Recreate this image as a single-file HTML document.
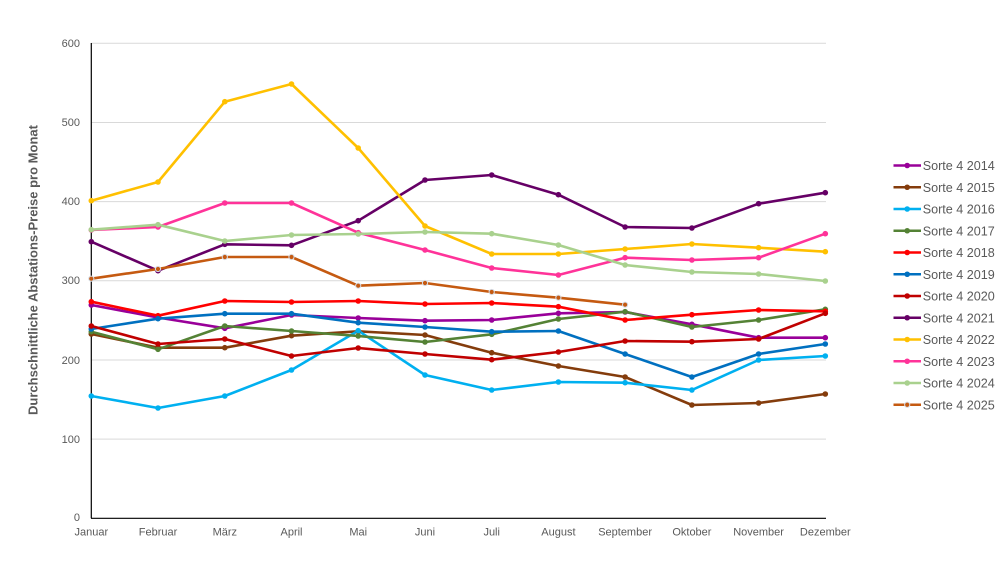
<!DOCTYPE html>
<html><head><meta charset="utf-8"><style>
html,body{margin:0;padding:0;background:#fff;}
svg{display:block;font-family:"Liberation Sans",Arial,sans-serif;}
</style></head><body>
<svg width="1008" height="573" viewBox="0 0 1008 573" xmlns="http://www.w3.org/2000/svg">
<rect width="1008" height="573" fill="#fff"/>
<g stroke="#D9D9D9" stroke-width="1">
<line x1="91" y1="43.3" x2="826" y2="43.3"/>
<line x1="91" y1="122.5" x2="826" y2="122.5"/>
<line x1="91" y1="201.6" x2="826" y2="201.6"/>
<line x1="91" y1="280.8" x2="826" y2="280.8"/>
<line x1="91" y1="360" x2="826" y2="360"/>
<line x1="91" y1="439.1" x2="826" y2="439.1"/>
</g>
<line x1="91.3" y1="43" x2="91.3" y2="518.3" stroke="#000" stroke-width="1.2"/>
<line x1="91" y1="518.3" x2="826" y2="518.3" stroke="#000" stroke-width="1.2"/>
<g fill="#595959" font-size="11" text-anchor="end">
<text x="80" y="47">600</text>
<text x="80" y="126">500</text>
<text x="80" y="205">400</text>
<text x="80" y="284">300</text>
<text x="80" y="364">200</text>
<text x="80" y="443">100</text>
<text x="80" y="521">0</text>
</g>
<g fill="#595959" font-size="11" text-anchor="middle">
<text x="91.3" y="535.5">Januar</text>
<text x="158" y="535.5">Februar</text>
<text x="224.8" y="535.5">März</text>
<text x="291.5" y="535.5">April</text>
<text x="358.2" y="535.5">Mai</text>
<text x="425" y="535.5">Juni</text>
<text x="491.7" y="535.5">Juli</text>
<text x="558.4" y="535.5">August</text>
<text x="625.1" y="535.5">September</text>
<text x="691.9" y="535.5">Oktober</text>
<text x="758.6" y="535.5">November</text>
<text x="825.3" y="535.5">Dezember</text>
</g>
<text transform="translate(37.5,270) rotate(-90)" text-anchor="middle" font-size="13" font-weight="bold" fill="#595959">Durchschnittliche Abstations-Preise pro Monat</text>

<g fill="none" stroke-width="2.6" stroke-linejoin="round">
<polyline stroke="#990099" points="91.3,305 158,317.5 224.8,328.3 291.5,315 358.2,318 425,320.7 491.7,320 558.4,313.3 625.1,312 691.9,324.3 758.6,337.7 825.3,337.7"/>
<polyline stroke="#843C0C" points="91.3,334 158,347.7 224.8,347.7 291.5,335.7 358.2,331.3 425,335 491.7,352.7 558.4,366 625.1,377 691.9,405 758.6,403 825.3,394"/>
<polyline stroke="#00B0F0" points="91.3,396 158,408 224.8,396 291.5,370 358.2,330.7 425,375 491.7,390 558.4,382 625.1,382.7 691.9,390 758.6,360 825.3,356"/>
<polyline stroke="#548235" points="91.3,331.7 158,349.3 224.8,326 291.5,331 358.2,336 425,342 491.7,334.3 558.4,319 625.1,311.7 691.9,327 758.6,320 825.3,309.3"/>
<polyline stroke="#FF0000" points="91.3,301.7 158,315.7 224.8,301 291.5,302 358.2,301 425,304 491.7,303 558.4,306.7 625.1,320 691.9,314.7 758.6,310 825.3,311.3"/>
<polyline stroke="#0070C0" points="91.3,329 158,318.7 224.8,313.7 291.5,313.7 358.2,322.7 425,327 491.7,331.7 558.4,331 625.1,354 691.9,377 758.6,354 825.3,344"/>
<polyline stroke="#C00000" points="91.3,326 158,344 224.8,339 291.5,356 358.2,348 425,354 491.7,359.7 558.4,352 625.1,341 691.9,341.7 758.6,339 825.3,313.3"/>
<polyline stroke="#660066" points="91.3,241.7 158,270.7 224.8,244.3 291.5,245.3 358.2,220.7 425,180 491.7,175 558.4,194.7 625.1,227 691.9,228 758.6,203.7 825.3,192.7"/>
<polyline stroke="#FFC000" points="91.3,200.7 158,182 224.8,101.7 291.5,84 358.2,148 425,226 491.7,254 558.4,254 625.1,249 691.9,244 758.6,247.7 825.3,251.7"/>
<polyline stroke="#FF3399" points="91.3,230 158,227 224.8,203 291.5,203 358.2,232.7 425,250 491.7,268 558.4,275 625.1,257.7 691.9,260 758.6,257.7 825.3,233.7"/>
<polyline stroke="#A9D18E" points="91.3,229.7 158,224.7 224.8,241 291.5,235 358.2,234 425,232 491.7,233.7 558.4,245 625.1,265 691.9,272 758.6,274 825.3,281"/>
<polyline stroke="#C55A11" points="91.3,278.7 158,269 224.8,257 291.5,257 358.2,285.7 425,283 491.7,292 558.4,297.7 625.1,304.7"/>
</g>

<g stroke="none">
<g fill="#990099"><circle cx="91.3" cy="305" r="2.8"/><circle cx="158" cy="317.5" r="2.8"/><circle cx="224.8" cy="328.3" r="2.8"/><circle cx="291.5" cy="315" r="2.8"/><circle cx="358.2" cy="318" r="2.8"/><circle cx="425" cy="320.7" r="2.8"/><circle cx="491.7" cy="320" r="2.8"/><circle cx="558.4" cy="313.3" r="2.8"/><circle cx="625.1" cy="312" r="2.8"/><circle cx="691.9" cy="324.3" r="2.8"/><circle cx="758.6" cy="337.7" r="2.8"/><circle cx="825.3" cy="337.7" r="2.8"/></g>
<g fill="#843C0C"><circle cx="91.3" cy="334" r="2.8"/><circle cx="158" cy="347.7" r="2.8"/><circle cx="224.8" cy="347.7" r="2.8"/><circle cx="291.5" cy="335.7" r="2.8"/><circle cx="358.2" cy="331.3" r="2.8"/><circle cx="425" cy="335" r="2.8"/><circle cx="491.7" cy="352.7" r="2.8"/><circle cx="558.4" cy="366" r="2.8"/><circle cx="625.1" cy="377" r="2.8"/><circle cx="691.9" cy="405" r="2.8"/><circle cx="758.6" cy="403" r="2.8"/><circle cx="825.3" cy="394" r="2.8"/></g>
<g fill="#00B0F0"><circle cx="91.3" cy="396" r="2.8"/><circle cx="158" cy="408" r="2.8"/><circle cx="224.8" cy="396" r="2.8"/><circle cx="291.5" cy="370" r="2.8"/><circle cx="358.2" cy="330.7" r="2.8"/><circle cx="425" cy="375" r="2.8"/><circle cx="491.7" cy="390" r="2.8"/><circle cx="558.4" cy="382" r="2.8"/><circle cx="625.1" cy="382.7" r="2.8"/><circle cx="691.9" cy="390" r="2.8"/><circle cx="758.6" cy="360" r="2.8"/><circle cx="825.3" cy="356" r="2.8"/></g>
<g fill="#548235"><circle cx="91.3" cy="331.7" r="2.8"/><circle cx="158" cy="349.3" r="2.8"/><circle cx="224.8" cy="326" r="2.8"/><circle cx="291.5" cy="331" r="2.8"/><circle cx="358.2" cy="336" r="2.8"/><circle cx="425" cy="342" r="2.8"/><circle cx="491.7" cy="334.3" r="2.8"/><circle cx="558.4" cy="319" r="2.8"/><circle cx="625.1" cy="311.7" r="2.8"/><circle cx="691.9" cy="327" r="2.8"/><circle cx="758.6" cy="320" r="2.8"/><circle cx="825.3" cy="309.3" r="2.8"/></g>
<g fill="#FF0000"><circle cx="91.3" cy="301.7" r="2.8"/><circle cx="158" cy="315.7" r="2.8"/><circle cx="224.8" cy="301" r="2.8"/><circle cx="291.5" cy="302" r="2.8"/><circle cx="358.2" cy="301" r="2.8"/><circle cx="425" cy="304" r="2.8"/><circle cx="491.7" cy="303" r="2.8"/><circle cx="558.4" cy="306.7" r="2.8"/><circle cx="625.1" cy="320" r="2.8"/><circle cx="691.9" cy="314.7" r="2.8"/><circle cx="758.6" cy="310" r="2.8"/><circle cx="825.3" cy="311.3" r="2.8"/></g>
<g fill="#0070C0"><circle cx="91.3" cy="329" r="2.8"/><circle cx="158" cy="318.7" r="2.8"/><circle cx="224.8" cy="313.7" r="2.8"/><circle cx="291.5" cy="313.7" r="2.8"/><circle cx="358.2" cy="322.7" r="2.8"/><circle cx="425" cy="327" r="2.8"/><circle cx="491.7" cy="331.7" r="2.8"/><circle cx="558.4" cy="331" r="2.8"/><circle cx="625.1" cy="354" r="2.8"/><circle cx="691.9" cy="377" r="2.8"/><circle cx="758.6" cy="354" r="2.8"/><circle cx="825.3" cy="344" r="2.8"/></g>
<g fill="#C00000"><circle cx="91.3" cy="326" r="2.8"/><circle cx="158" cy="344" r="2.8"/><circle cx="224.8" cy="339" r="2.8"/><circle cx="291.5" cy="356" r="2.8"/><circle cx="358.2" cy="348" r="2.8"/><circle cx="425" cy="354" r="2.8"/><circle cx="491.7" cy="359.7" r="2.8"/><circle cx="558.4" cy="352" r="2.8"/><circle cx="625.1" cy="341" r="2.8"/><circle cx="691.9" cy="341.7" r="2.8"/><circle cx="758.6" cy="339" r="2.8"/><circle cx="825.3" cy="313.3" r="2.8"/></g>
<g fill="#660066"><circle cx="91.3" cy="241.7" r="2.8"/><circle cx="158" cy="270.7" r="2.8"/><circle cx="224.8" cy="244.3" r="2.8"/><circle cx="291.5" cy="245.3" r="2.8"/><circle cx="358.2" cy="220.7" r="2.8"/><circle cx="425" cy="180" r="2.8"/><circle cx="491.7" cy="175" r="2.8"/><circle cx="558.4" cy="194.7" r="2.8"/><circle cx="625.1" cy="227" r="2.8"/><circle cx="691.9" cy="228" r="2.8"/><circle cx="758.6" cy="203.7" r="2.8"/><circle cx="825.3" cy="192.7" r="2.8"/></g>
<g fill="#FFC000"><circle cx="91.3" cy="200.7" r="2.8"/><circle cx="158" cy="182" r="2.8"/><circle cx="224.8" cy="101.7" r="2.8"/><circle cx="291.5" cy="84" r="2.8"/><circle cx="358.2" cy="148" r="2.8"/><circle cx="425" cy="226" r="2.8"/><circle cx="491.7" cy="254" r="2.8"/><circle cx="558.4" cy="254" r="2.8"/><circle cx="625.1" cy="249" r="2.8"/><circle cx="691.9" cy="244" r="2.8"/><circle cx="758.6" cy="247.7" r="2.8"/><circle cx="825.3" cy="251.7" r="2.8"/></g>
<g fill="#FF3399"><circle cx="91.3" cy="230" r="2.8"/><circle cx="158" cy="227" r="2.8"/><circle cx="224.8" cy="203" r="2.8"/><circle cx="291.5" cy="203" r="2.8"/><circle cx="358.2" cy="232.7" r="2.8"/><circle cx="425" cy="250" r="2.8"/><circle cx="491.7" cy="268" r="2.8"/><circle cx="558.4" cy="275" r="2.8"/><circle cx="625.1" cy="257.7" r="2.8"/><circle cx="691.9" cy="260" r="2.8"/><circle cx="758.6" cy="257.7" r="2.8"/><circle cx="825.3" cy="233.7" r="2.8"/></g>
<g fill="#A9D18E"><circle cx="91.3" cy="229.7" r="2.8"/><circle cx="158" cy="224.7" r="2.8"/><circle cx="224.8" cy="241" r="2.8"/><circle cx="291.5" cy="235" r="2.8"/><circle cx="358.2" cy="234" r="2.8"/><circle cx="425" cy="232" r="2.8"/><circle cx="491.7" cy="233.7" r="2.8"/><circle cx="558.4" cy="245" r="2.8"/><circle cx="625.1" cy="265" r="2.8"/><circle cx="691.9" cy="272" r="2.8"/><circle cx="758.6" cy="274" r="2.8"/><circle cx="825.3" cy="281" r="2.8"/></g>
<g fill="#C55A11" stroke="#D6DCE5" stroke-width="1"><circle cx="91.3" cy="278.7" r="2.6"/><circle cx="158" cy="269" r="2.6"/><circle cx="224.8" cy="257" r="2.6"/><circle cx="291.5" cy="257" r="2.6"/><circle cx="358.2" cy="285.7" r="2.6"/><circle cx="425" cy="283" r="2.6"/><circle cx="491.7" cy="292" r="2.6"/><circle cx="558.4" cy="297.7" r="2.6"/><circle cx="625.1" cy="304.7" r="2.6"/></g>
</g>

<g font-size="12.6" fill="#595959">
<g transform="translate(0,165.5)"><line x1="893.5" x2="921" stroke="#990099" stroke-width="2.6"/><circle cx="907.2" r="2.8" fill="#990099"/><text x="922.7" y="4.5">Sorte 4 2014</text></g>
<g transform="translate(0,187.25)"><line x1="893.5" x2="921" stroke="#843C0C" stroke-width="2.6"/><circle cx="907.2" r="2.8" fill="#843C0C"/><text x="922.7" y="4.5">Sorte 4 2015</text></g>
<g transform="translate(0,209)"><line x1="893.5" x2="921" stroke="#00B0F0" stroke-width="2.6"/><circle cx="907.2" r="2.8" fill="#00B0F0"/><text x="922.7" y="4.5">Sorte 4 2016</text></g>
<g transform="translate(0,230.75)"><line x1="893.5" x2="921" stroke="#548235" stroke-width="2.6"/><circle cx="907.2" r="2.8" fill="#548235"/><text x="922.7" y="4.5">Sorte 4 2017</text></g>
<g transform="translate(0,252.5)"><line x1="893.5" x2="921" stroke="#FF0000" stroke-width="2.6"/><circle cx="907.2" r="2.8" fill="#FF0000"/><text x="922.7" y="4.5">Sorte 4 2018</text></g>
<g transform="translate(0,274.25)"><line x1="893.5" x2="921" stroke="#0070C0" stroke-width="2.6"/><circle cx="907.2" r="2.8" fill="#0070C0"/><text x="922.7" y="4.5">Sorte 4 2019</text></g>
<g transform="translate(0,296)"><line x1="893.5" x2="921" stroke="#C00000" stroke-width="2.6"/><circle cx="907.2" r="2.8" fill="#C00000"/><text x="922.7" y="4.5">Sorte 4 2020</text></g>
<g transform="translate(0,317.75)"><line x1="893.5" x2="921" stroke="#660066" stroke-width="2.6"/><circle cx="907.2" r="2.8" fill="#660066"/><text x="922.7" y="4.5">Sorte 4 2021</text></g>
<g transform="translate(0,339.5)"><line x1="893.5" x2="921" stroke="#FFC000" stroke-width="2.6"/><circle cx="907.2" r="2.8" fill="#FFC000"/><text x="922.7" y="4.5">Sorte 4 2022</text></g>
<g transform="translate(0,361.25)"><line x1="893.5" x2="921" stroke="#FF3399" stroke-width="2.6"/><circle cx="907.2" r="2.8" fill="#FF3399"/><text x="922.7" y="4.5">Sorte 4 2023</text></g>
<g transform="translate(0,383)"><line x1="893.5" x2="921" stroke="#A9D18E" stroke-width="2.6"/><circle cx="907.2" r="2.8" fill="#A9D18E"/><text x="922.7" y="4.5">Sorte 4 2024</text></g>
<g transform="translate(0,404.75)"><line x1="893.5" x2="921" stroke="#C55A11" stroke-width="2.6"/><circle cx="907.2" r="2.6" fill="#C55A11" stroke="#D6DCE5" stroke-width="1"/><text x="922.7" y="4.5">Sorte 4 2025</text></g>
</g>
</svg>
</body></html>
